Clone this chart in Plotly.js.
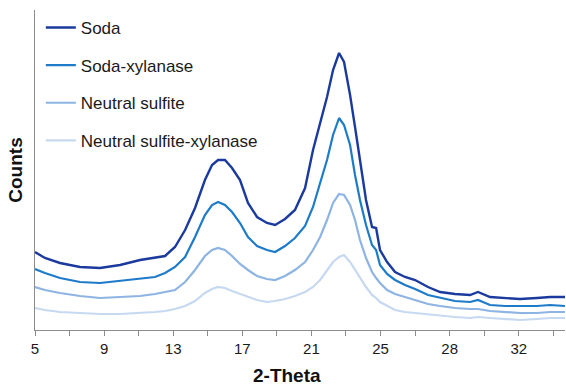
<!DOCTYPE html>
<html>
<head>
<meta charset="utf-8">
<script src="https://cdn.plot.ly/plotly-3.0.1.min.js"></script>
<style>
  html, body { margin: 0; padding: 0; background: #fff; }
  #chart { width: 566px; height: 387px; }
</style>
</head>
<body>
<div id="chart"></div>
<script>
// 2-Theta sample positions (degrees)
const twoTheta = [5.00, 5.56, 6.41, 7.54, 8.67, 9.80, 10.93, 11.77, 12.34, 12.90,
  13.47, 14.03, 14.59, 14.99, 15.33, 15.72, 16.12, 16.57, 17.02, 17.53,
  18.09, 18.55, 19.11, 19.67, 20.24, 20.69, 21.09, 21.48, 21.82, 22.16,
  22.44, 22.78, 23.06, 23.34, 23.68, 24.02, 24.25, 24.47, 24.87, 25.32,
  25.88, 26.45, 27.18, 27.86, 28.70, 29.55, 30.00, 30.68, 31.53, 32.37,
  33.33, 34.07, 34.91];

// Counts (arbitrary units)
const soda = [78, 72, 67, 63, 62, 65, 70, 72, 74, 83,
  100, 122, 150, 165, 170, 170, 162, 150, 127, 113,
  107, 105, 111, 120, 142, 180, 207, 233, 260, 277,
  268, 235, 203, 170, 130, 103, 102, 80, 68, 58,
  53, 50, 43, 38, 36, 35, 38, 33, 32, 31,
  32, 33, 33];
const sodaXylanase = [61, 57, 52, 48, 47, 49, 51, 53, 57, 63,
  73, 93, 115, 125, 128, 125, 118, 107, 93, 84,
  80, 78, 84, 92, 104, 123, 147, 170, 195, 212,
  205, 185, 155, 130, 105, 85, 80, 65, 56, 50,
  45, 41, 35, 32, 29, 28, 30, 25, 24, 24,
  24, 25, 24];
const neutralSulfite = [43, 40, 37, 34, 32, 33, 34, 36, 38, 40,
  48, 60, 74, 80, 82, 80, 74, 66, 60, 54,
  51, 50, 54, 60, 68, 80, 93, 110, 127, 136,
  135, 125, 110, 90, 72, 58, 52, 47, 40, 36,
  33, 30, 26, 24, 22, 21, 21, 19, 18, 17,
  17, 18, 18];
const neutralSulfiteXylanase = [22, 20, 18, 17, 16, 16, 17, 18, 19, 21,
  24, 29, 37, 41, 43, 42, 39, 36, 33, 30,
  28, 29, 31, 34, 38, 43, 50, 60, 68, 73,
  75, 68, 60, 52, 43, 35, 32, 28, 24, 20,
  18, 17, 15, 14, 13, 12, 13, 12, 11, 10,
  11, 12, 12];

const seriesNames = ["Soda", "Soda-xylanase", "Neutral sulfite", "Neutral sulfite-xylanase"];
const seriesValues = [soda, sodaXylanase, neutralSulfite, neutralSulfiteXylanase];
const seriesColors = ["#1B3A9E", "#1E7BC9", "#8DB4E2", "#C6D9F1"];
const seriesWidths = [2.4, 2.2, 2.2, 2.2];

// Axis ticks (Excel-style: every 1.95 deg, labelled every other one)
const tickPositions = [5, 6.95, 8.9, 10.85, 12.8, 14.75, 16.7, 18.65, 20.6, 22.55,
  24.5, 26.45, 28.4, 30.35, 32.3, 34.25];
const tickLabels = ["5", "", "9", "", "13", "", "17", "", "21", "", "25", "", "28", "", "32", ""];

const traces = seriesNames.map((name, i) => ({
  type: "scatter",
  mode: "lines",
  name: name,
  legendgroup: "g" + i,
  x: twoTheta,
  y: seriesValues[i],
  line: { color: seriesColors[i], width: seriesWidths[i] },
  hoverinfo: "skip"
}));

const layout = {
  width: 566,
  height: 387,
  margin: { l: 35, r: 1, t: 10, b: 57 },
  paper_bgcolor: "#ffffff",
  plot_bgcolor: "#ffffff",
  font: { family: "Liberation Sans, Arial, sans-serif", color: "#1a1a1a", size: 13 },
  showlegend: true,
  legend: {
    x: 0.011, y: 1.0, xanchor: "left", yanchor: "top",
    bgcolor: "rgba(255,255,255,0)",
    font: { size: 17, color: "#1a1a1a" },
    tracegroupgap: 12.5,
    itemwidth: 30
  },
  xaxis: {
    range: [5, 34.91],
    tickmode: "array",
    tickvals: tickPositions,
    ticktext: tickLabels,
    ticks: "outside",
    ticklen: 5,
    tickcolor: "#8c8c8c",
    tickwidth: 1,
    showline: true,
    linecolor: "#8c8c8c",
    linewidth: 1,
    showgrid: false,
    zeroline: false,
    tickfont: { size: 15, color: "#1a1a1a" }
  },
  yaxis: {
    range: [0, 320],
    showticklabels: false,
    ticks: "",
    showline: true,
    linecolor: "#8c8c8c",
    linewidth: 1,
    showgrid: false,
    zeroline: false,
    title: { text: "<b>Counts</b>", font: { size: 19, color: "#111" }, standoff: 6 }
  },
  annotations: [{
    text: "<b>2-Theta</b>",
    xref: "paper", yref: "paper",
    x: 0.475, y: 0, yshift: -45,
    xanchor: "center", yanchor: "middle",
    showarrow: false,
    font: { size: 19, color: "#111" }
  }]
};

Plotly.newPlot("chart", traces, layout, { staticPlot: true, displayModeBar: false });
</script>
</body>
</html>
